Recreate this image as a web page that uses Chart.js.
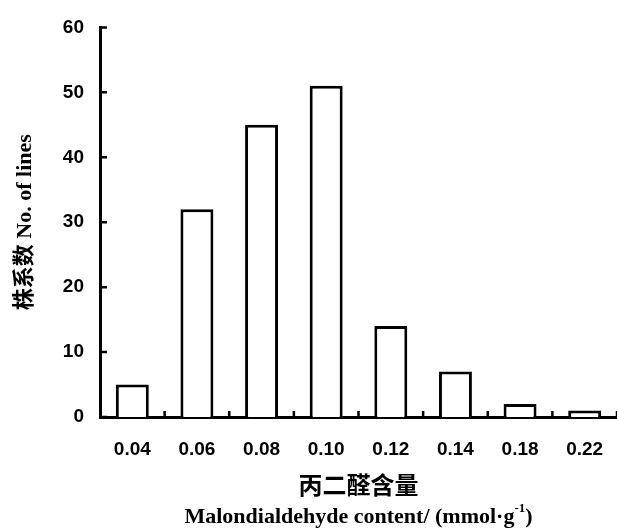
<!DOCTYPE html>
<html>
<head>
<meta charset="utf-8">
<script src="https://cdn.jsdelivr.net/npm/chart.js@4.4.1/dist/chart.umd.min.js"></script>
<style>
  html, body { margin: 0; padding: 0; background: #fff; }
  #wrap { width: 617px; height: 531px; position: relative; }
</style>
</head>
<body>
<div id="wrap"><canvas id="chart"></canvas></div>
<script>
// data
const categories = ['0.04', '0.06', '0.08', '0.10', '0.12', '0.14', '0.18', '0.22'];
const lineCounts = [5, 32, 45, 51, 14, 7, 2, 1];
const yTicks = [0, 10, 20, 30, 40, 50, 60];
const xTitleZh = '丙二醛含量';
const xTitleEn = 'Malondialdehyde content/ (mmol·g';
const xTitleSup = '-1';
const xTitleEnd = ')';
const yTitle = '株系数 No. of lines';

const INK = '#000';
const TICK_FONT = { family: "'Liberation Sans', Arial, sans-serif", size: 19, weight: 'bold' };

// inward y ticks, upward x ticks between bars, and the axis titles
const frame = {
  id: 'frame',
  afterDraw(chart) {
    const { ctx, chartArea, scales: { x, y } } = chart;
    ctx.save();
    ctx.strokeStyle = INK;
    ctx.lineWidth = 2.5;
    ctx.beginPath();
    y.ticks.forEach(t => {
      const py = y.getPixelForValue(t.value);
      ctx.moveTo(chartArea.left, py);
      ctx.lineTo(chartArea.left + 7, py);
    });
    for (let i = 1; i <= categories.length; i++) {
      const px = x.getPixelForValue(i - 0.5);
      ctx.moveTo(px, chartArea.bottom);
      ctx.lineTo(px, chartArea.bottom - 6);
    }
    ctx.stroke();

    const cx = (chartArea.left + chartArea.right) / 2;
    ctx.fillStyle = INK;
    ctx.textBaseline = 'middle';

    ctx.textAlign = 'center';
    ctx.font = "bold 24px 'Noto Sans CJK SC', sans-serif";
    ctx.fillText(xTitleZh, cx, 485);

    // english line with a raised "-1"
    const mainFont = "bold 22px 'Liberation Serif', serif";
    const supFont = "bold 13px 'Liberation Serif', serif";
    ctx.font = mainFont;
    const w1 = ctx.measureText(xTitleEn).width;
    const w3 = ctx.measureText(xTitleEnd).width;
    ctx.font = supFont;
    const w2 = ctx.measureText(xTitleSup).width;
    let sx = cx - (w1 + w2 + w3) / 2;
    ctx.textAlign = 'left';
    ctx.font = mainFont;
    ctx.fillText(xTitleEn, sx, 517);
    sx += w1;
    ctx.font = supFont;
    ctx.fillText(xTitleSup, sx, 509);
    sx += w2;
    ctx.font = mainFont;
    ctx.fillText(xTitleEnd, sx, 517);

    ctx.translate(25, (chartArea.top + chartArea.bottom) / 2);
    ctx.rotate(-Math.PI / 2);
    ctx.textAlign = 'center';
    ctx.font = "bold 22px 'Liberation Serif', 'Noto Sans CJK SC', serif";
    ctx.fillText(yTitle, 0, 0);
    ctx.restore();
  }
};

new Chart(document.getElementById('chart'), {
  type: 'bar',
  data: {
    labels: categories,
    datasets: [{
      data: lineCounts,
      backgroundColor: '#fff',
      borderColor: INK,
      borderWidth: 3,
      barPercentage: 0.51,
      categoryPercentage: 1,
    }],
  },
  options: {
    responsive: true,
    maintainAspectRatio: false,
    animation: false,
    layout: { padding: { top: 23, right: 0, bottom: 0, left: 0 } },
    plugins: { legend: { display: false }, tooltip: { enabled: false } },
    scales: {
      x: {
        grid: { display: false, drawTicks: false },
        border: { color: INK, width: 3 },
        ticks: { color: INK, font: TICK_FONT, padding: 21 },
        afterFit: s => { s.height = 114; s.paddingLeft = 0; s.paddingRight = 0; },
      },
      y: {
        min: 0,
        max: 60,
        grid: { display: false, drawTicks: false },
        border: { color: INK, width: 3 },
        ticks: { color: INK, font: TICK_FONT, padding: 16 },
        afterBuildTicks: s => { s.ticks = yTicks.map(v => ({ value: v })); },
        afterFit: s => { s.width = 100; },
      },
    },
  },
  plugins: [frame],
});
</script>
</body>
</html>
